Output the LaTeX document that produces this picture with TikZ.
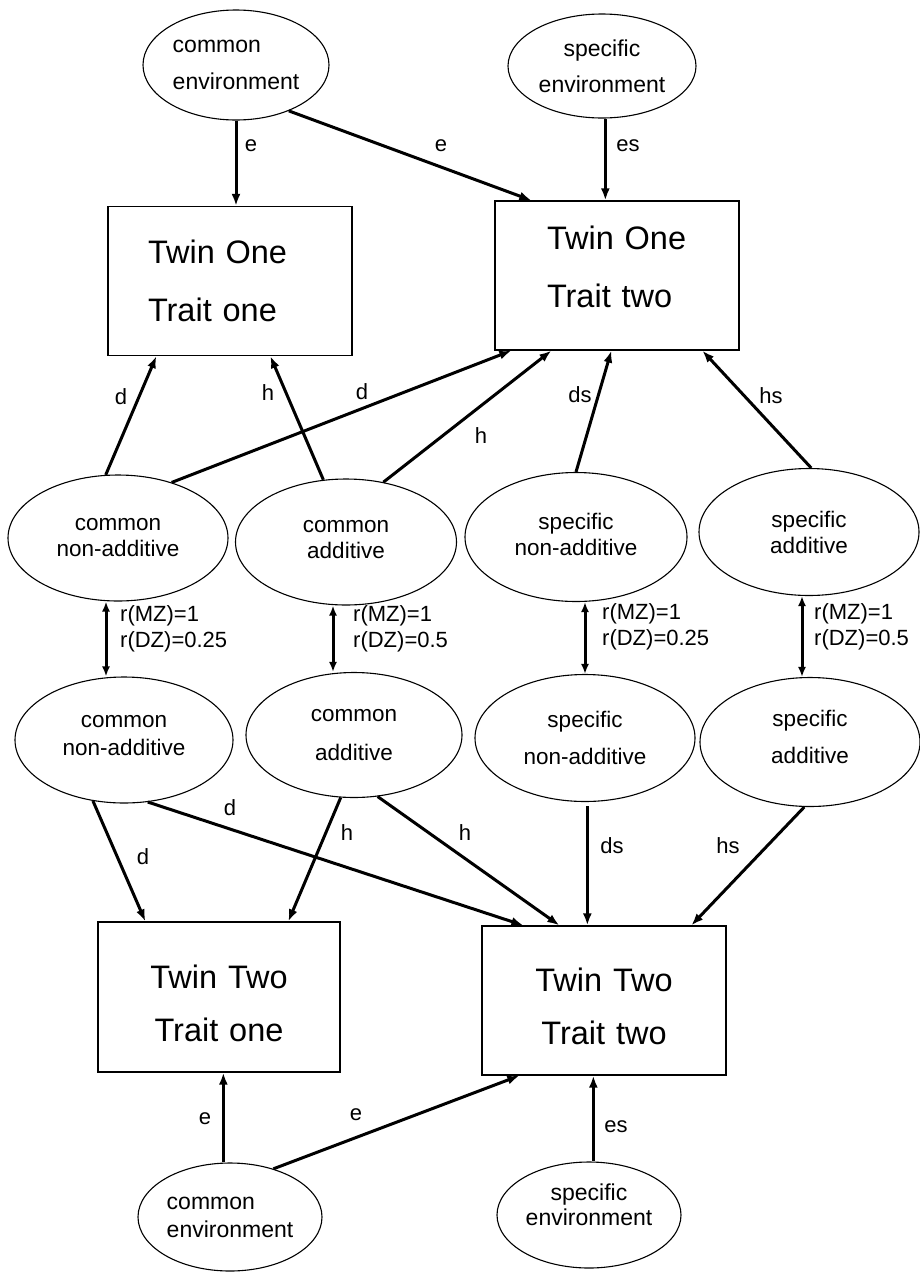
\documentclass[tikz,border=0pt]{standalone}
\usepackage{fontspec}
\setmainfont{Liberation Sans}
\usetikzlibrary{arrows.meta,shapes.geometric,calc}
\begin{document}
\begin{tikzpicture}[x=1pt,y=-1pt,
 ell/.style={draw,ellipse,line width=1.1pt,inner sep=0pt,font=\fontsize{22.5}{26}\selectfont,align=center},
 box/.style={draw,rectangle,line width=1.3pt,inner sep=0pt,minimum width=244pt,minimum height=149pt,font=\fontsize{32.5}{58}\selectfont},
 arr/.style={line width=3pt,-{Latex[length=12pt,width=9pt]}},
 dbl/.style={line width=3pt,{Latex[length=10pt,width=8pt]}-{Latex[length=10pt,width=8pt]}},
 lab/.style={font=\fontsize{22}{26}\selectfont,inner sep=0pt},
 rlab/.style={font=\fontsize{22}{26}\selectfont,inner sep=0pt,align=left,anchor=west}]
\useasboundingbox (0,0) rectangle (920,1272);

% top environments
\node[ell,minimum width=186pt,minimum height=110pt,align=left,font=\fontsize{23}{26}\selectfont] (cenvT) at (236,65) {common\\[11pt]environment};
\node[ell,minimum width=188pt,minimum height=104pt,font=\fontsize{23}{26}\selectfont] (senvT) at (602,66) {specific\\[10pt]environment};

% twin one boxes
\node[box,text width=164pt,align=left] (b1) at (230,281) {Twin One\\Trait one};
\node[box,text width=140pt,align=left,text depth=76pt] (b2) at (617,275.5) {Twin One\\Trait two};

% first row of latent factors
\node[ell,minimum width=220pt,minimum height=126pt] (cna1) at (118,538) {common\\non-additive};
\node[ell,minimum width=221pt,minimum height=126pt,text depth=6pt] (ca1) at (346,542) {common\\additive};
\node[ell,minimum width=222pt,minimum height=129pt,text depth=6pt] (sna1) at (576,537) {specific\\non-additive};
\node[ell,minimum width=220pt,minimum height=127pt] (sa1) at (809,532) {specific\\additive};

% second row of latent factors
\node[ell,minimum width=218pt,minimum height=126pt,text depth=10pt] (cna2) at (124,740) {common\\[2pt]non-additive};
\node[ell,minimum width=216pt,minimum height=125pt] (ca2) at (354,735) {common\\[13pt]additive};
\node[ell,minimum width=220pt,minimum height=127pt] (sna2) at (585,738) {specific\\[11pt]non-additive};
\node[ell,minimum width=220pt,minimum height=129pt,text depth=10pt] (sa2) at (810,742) {specific\\[11pt]additive};

% twin two boxes
\node[box,minimum width=242pt,minimum height=150pt,text width=218pt,align=center,font=\fontsize{32.5}{53}\selectfont] (b3) at (219,997) {\rule{0pt}{36pt}Twin Two\\Trait one};
\node[box,text width=200pt,align=center,font=\fontsize{32.5}{53}\selectfont] (b4) at (604,1000.5) {\rule{0pt}{35pt}Twin Two\\Trait two};

% bottom environments
\node[ell,minimum width=184pt,minimum height=108pt,align=left,font=\fontsize{23}{26}\selectfont] (cenvB) at (230,1217) {common\\[2pt]environment};
\node[ell,minimum width=184pt,minimum height=106pt,font=\fontsize{23}{26}\selectfont,text depth=20pt] (senvB) at (589,1215) {specific\\[-1pt]environment};

% top arrows
\draw[arr] (cenvT.south) -- (cenvT.south |- b1.north);
\draw[arr] (cenvT.-41) -- ($(b2.north west)+(37,0)$);
\coordinate (t2) at ($(b2.north west)+(111,0)$);
\draw[arr] (t2 |- senvT.south) -- (t2);

% middle upper arrows
\draw[arr] (cna1.101) -- ($(b1.south west)+(49,0)$);
\draw[arr] (cna1.46) -- ($(b2.south west)+(17,0)$);
\draw[arr] (ca1.110) -- ($(b1.south west)+(163,0)$);
\draw[arr] (ca1.58) -- ($(b2.south west)+(57,0)$);
\draw[arr] (sna1.north) -- ($(b2.south west)+(117,0)$);
\draw[arr] (sa1.88) -- ($(b2.south west)+(208,0)$);

% correlations
\coordinate (x1) at (106,0);
\coordinate (x2) at (333,0);
\coordinate (x3) at (585,0);
\coordinate (x4) at (802,0);
\draw[dbl] (x1 |- cna1.south) -- (x1 |- cna2.north);
\draw[dbl] (x2 |- ca1.south) -- (x2 |- ca2.north);
\draw[dbl] (x3 |- sna1.south) -- (x3 |- sna2.north);
\draw[dbl] (x4 |- sa1.south) -- (x4 |- sa2.north);

% lower arrows
\draw[arr] (cna2.-117) -- ($(b3.north west)+(48,0)$);
\draw[arr] (cna2.-69) -- ($(b4.north west)+(42,0)$);
\draw[arr] (ca2.-102) -- ($(b3.north west)+(191,0)$);
\draw[arr] (ca2.-69) -- ($(b4.north west)+(78,0)$);
\coordinate (t4) at ($(b4.north west)+(106,0)$);
\draw[arr,shorten <=4pt] (t4 |- sna2.south) -- (t4);
\draw[arr] (sa2.-95) -- ($(b4.north west)+(210,0)$);

% bottom arrows
\coordinate (t3) at ($(b3.south west)+(126,0)$);
\draw[arr] (t3 |- cenvB.north) -- (t3);
\draw[arr] (cenvB.48) -- ($(b4.south west)+(38,0)$);
\coordinate (t5) at ($(b4.south west)+(112,0)$);
\draw[arr] (t5 |- senvB.north) -- (t5);

% path labels
\node[lab] (l1) at (251,146) {e};
\node[lab] (l2) at (441,146) {e};
\node[lab] (l3) at (628,146) {es};
\node[lab] (l4) at (121,397) {d};
\node[lab] (l5) at (268,393) {h};
\node[lab] (l6) at (362,392) {d};
\node[lab] (l7) at (481,436) {h};
\node[lab] (l8) at (580,395) {ds};
\node[lab] (l9) at (771,396) {hs};
\node[lab] (l10) at (143,857) {d};
\node[lab] (l11) at (230,808) {d};
\node[lab] (l12) at (347,833) {h};
\node[lab] (l13) at (465,833) {h};
\node[lab] (l14) at (612,846) {ds};
\node[lab] (l15) at (728,846) {hs};
\node[lab] (l16) at (205,1119) {e};
\node[lab] (l17) at (356,1115) {e};
\node[lab] (l18) at (616,1127) {es};

% correlation labels
\node[rlab] (r1) at (120,628.5) {r(MZ)=1\\r(DZ)=0.25};
\node[rlab] (r2) at (353,628.5) {r(MZ)=1\\r(DZ)=0.5};
\node[rlab] (r3) at (602,627) {r(MZ)=1\\r(DZ)=0.25};
\node[rlab] (r4) at (814,627) {r(MZ)=1\\r(DZ)=0.5};
\end{tikzpicture}
\end{document}
